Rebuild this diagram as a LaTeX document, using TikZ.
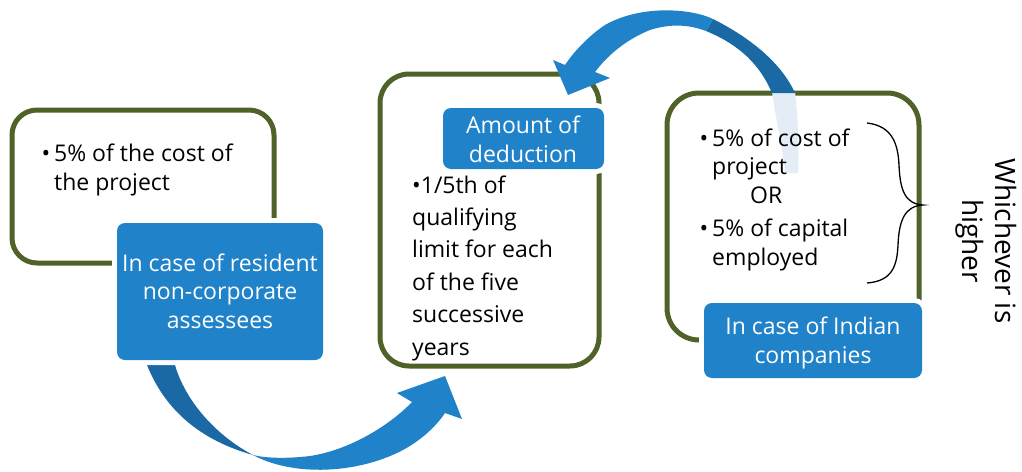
\documentclass[tikz,border=0pt]{standalone}
\usepackage{fontspec}
\setmainfont{Open Sans}
\definecolor{accent}{RGB}{32,130,200}
\definecolor{accentdark}{RGB}{27,105,164}
\definecolor{accentpale}{RGB}{228,237,246}
\definecolor{boxgreen}{RGB}{79,98,40}
\begin{document}
\begin{tikzpicture}[x=1pt,y=-1pt,
  bluebox/.style={fill=accent, rounded corners=8pt, inner sep=0pt, preaction={draw=white, line width=10pt, rounded corners=8pt}},
  bodytext/.style={font=\fontsize{23}{28.5}\selectfont, align=left, inner sep=0pt},
  whitetext/.style={font=\fontsize{23}{28.5}\selectfont, align=center, inner sep=0pt, text=white},
  arrowlight/.style={fill=accent},
  arrowdark/.style={fill=accentdark},
  arrowpale/.style={fill=accentpale}
]
\useasboundingbox (0,0) rectangle (1022,471);
\fill[white] (0,0) rectangle (1022,471);

% green outline boxes
\draw[boxgreen, line width=5pt, rounded corners=25pt] (12,110) rectangle (274,263);
\draw[boxgreen, line width=5pt, rounded corners=29pt] (380,74) rectangle (599,366);
\draw[boxgreen, line width=5pt, rounded corners=32pt] (667,93) rectangle (919,340);

% top curved arrow (from right box to middle box)
\fill[arrowpale] (772,92) .. controls (776,120) and (783,150) .. (785,173) -- (798,173) .. controls (799,145) and (798,118) .. (795,92) -- cycle;
\fill[arrowdark] (713,19) .. controls (745,35) and (780,60) .. (795,93) -- (772,93) .. controls (760,65) and (740,45) .. (706,31) -- cycle;
\fill[arrowlight] (713,19) .. controls (690,8) and (640,5) .. (605,25) .. controls (590,35) and (575,50) .. (565,65)
   -- (553,60) -- (568,95) -- (610,78) -- (595,72)
   .. controls (610,52) and (630,38) .. (650,30) .. controls (672,23) and (690,25) .. (706,31) -- cycle;

% bottom curved arrow (from left box to middle box)
\fill[arrowdark] (147,365) .. controls (165,410) and (200,440) .. (253,455) .. controls (215,435) and (185,400) .. (175,365) -- cycle;
\fill[arrowlight] (253,455) .. controls (290,475) and (350,475) .. (397,453) .. controls (418,443) and (435,428) .. (445,413)
   -- (462,419) -- (445,376) -- (397,393) -- (412,402)
   .. controls (390,425) and (350,450) .. (310,456) .. controls (285,459) and (265,458) .. (253,455) -- cycle;

% blue label boxes
\fill[bluebox] (117,223) rectangle (323,360);
\fill[bluebox] (443,108) rectangle (604,169);
\fill[bluebox] (704,303) rectangle (922,378);

% texts (anchor base = baseline of last line)
\node[bodytext, anchor=base west] (lefttext) at (54,190) {\llap{•\hspace{4pt}}5\% of the cost of\\the project};
\node[whitetext, anchor=base] (leftlabel) at (220,328) {In case of resident\\non-corporate\\assessees};
\node[whitetext, anchor=base] (midlabel) at (523,162) {Amount of\\deduction};
\node[bodytext, anchor=base west, font=\fontsize{23}{32.4}\selectfont] (midtext) at (412,355) {•1/5th of\\qualifying\\limit for each\\of the five\\successive\\years};
\node[bodytext, anchor=base west] (righttextA) at (712,203) {\llap{•\hspace{4pt}}5\% of cost of\\project\\\hspace{38pt}OR};
\node[bodytext, anchor=base west] (righttextB) at (712,265) {\llap{•\hspace{4pt}}5\% of capital\\employed};
\node[whitetext, anchor=base] (rightlabel) at (813,363) {In case of Indian\\companies};

% brace
\draw[black, line width=1.3pt] (867,123) .. controls (893,126) and (898,145) .. (899,165) .. controls (900,190) and (905,204) .. (923,205) .. controls (905,206) and (899,220) .. (898,245) .. controls (897,265) and (893,281) .. (867,283);
\node[font=\fontsize{28}{33}\selectfont, align=center, rotate=-90, anchor=base, inner sep=0pt] (higher) at (962,241) {Whichever is\\higher};
\end{tikzpicture}
\end{document}
